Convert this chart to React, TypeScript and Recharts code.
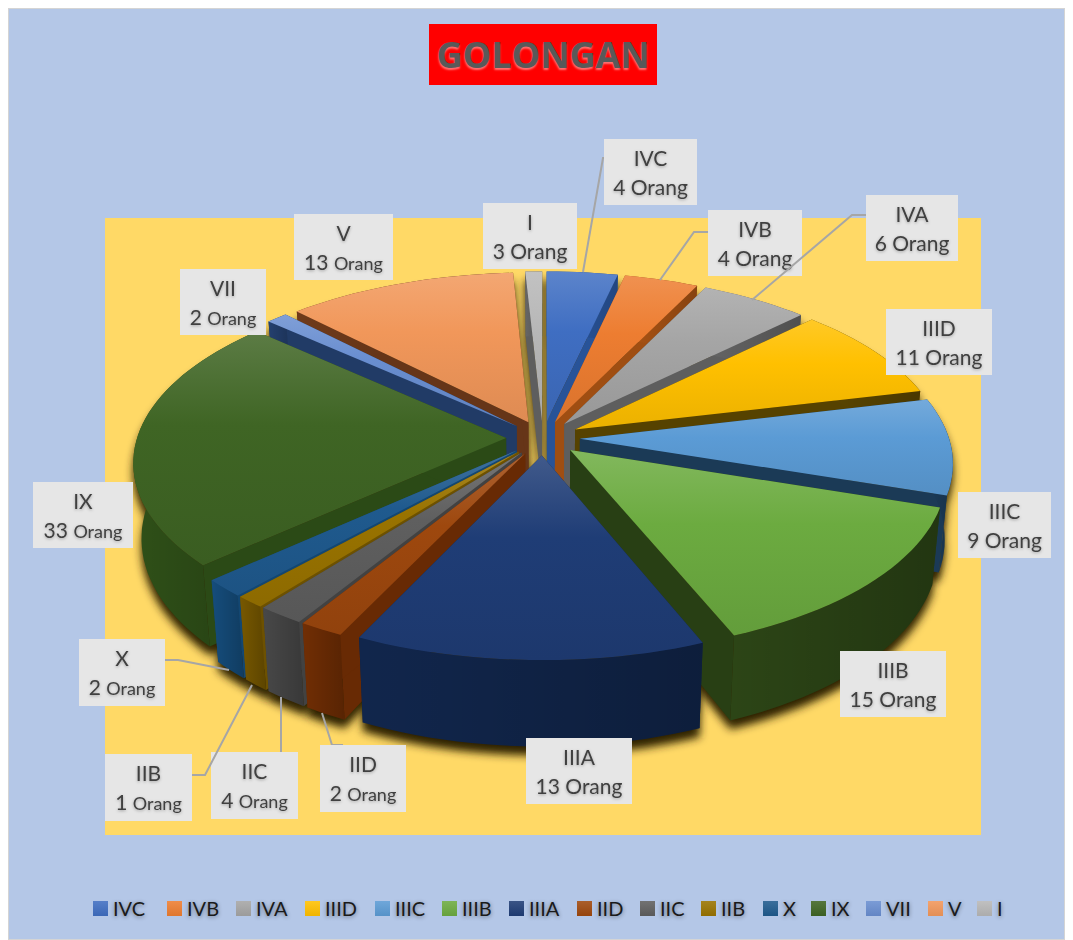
import React from 'react';
import { PieChart, Pie, Legend } from 'recharts';

const categories = ['IVC', 'IVB', 'IVA', 'IIID', 'IIIC', 'IIIB', 'IIIA', 'IID', 'IIC', 'IIB', 'X', 'IX', 'VII', 'V', 'I'];
// printed on the data labels
const labelCounts = [4, 4, 6, 11, 9, 15, 13, 2, 4, 1, 2, 33, 2, 13, 3];
// slice sizes as measured on the picture (the drawn arcs do not follow the printed counts)
const sliceSizes = [12.7, 13.3, 19.4, 31.1, 31.8, 49.5, 47.7, 6.1, 6.4, 4, 5.8, 84.2, 3.8, 41.2, 3];

const topColors = ['#3F6EC2', '#ED7D31', '#A5A5A5', '#FFC000', '#5B9BD5', '#6CAB40', '#1F3D76', '#9E480E', '#5F5F5F', '#997300', '#1F5A8E', '#3F6524', '#698ED0', '#F1975A', '#B7B7B7'];
const wallColors = ['#2C5AA5', '#AD5514', '#666666', '#5E4800', '#1D3F5E', '#2C4516', '#11264C', '#712E04', '#484848', '#775800', '#154D7C', '#2F5018', '#24406F', '#6F3A1A', '#666666'];

// page coordinates of the boxes: x, y, w, h
const labelBoxes = [
  [604, 139, 93, 66], [708, 210, 94, 66], [866, 195, 92, 66], [886, 309, 106, 66], [958, 492, 93, 66],
  [840, 651, 106, 66], [526, 738, 106, 66], [320, 745, 86, 67], [211, 752, 87, 67], [105, 754, 87, 67],
  [79, 639, 86, 67], [33, 482, 100, 66], [180, 269, 86, 66], [294, 214, 99, 66], [483, 203, 94, 66],
];
const smallUnit = [false, false, false, false, false, false, false, true, true, true, true, true, true, true, false];
const leaders = [
  [[583, 272], [603, 158], [604, 158]],
  [[660, 280], [694, 232], [708, 232]],
  [[752, 300], [852, 215], [866, 215]],
  [], [], [], [],
  [[322, 713], [332, 745], [343, 745]],
  [[281, 697], [281, 752]],
  [[252, 685], [205, 775], [192, 775]],
  [[229, 670], [178, 660], [165, 660]],
  [], [], [], [],
];
// left edge of each legend swatch, page x
const legendX = [93, 167, 236, 305, 375, 442, 509, 577, 640, 701, 763, 811, 866, 928, 977];

const rows = categories.map((name, idx) => ({ name, value: sliceSizes[idx], idx }));

const OUTER = 369;
const TILT = 0.469;
const PERSP = 0.13;
const DEPTH = 74;
const EXPLODE = 0.1;

const RAD = Math.PI / 180;

// depth order, back slices first
let acc = 0;
const total = sliceSizes.reduce((a, b) => a + b, 0);
const mids = sliceSizes.map((v) => {
  const m = acc + v / 2;
  acc += v;
  return (m / total) * 360;
});
const drawOrder = categories.map((_, i) => i).sort((a, b) => Math.cos(mids[b] * RAD) - Math.cos(mids[a] * RAD));

const mix = (hex: string, target: number, t: number) => {
  const n = parseInt(hex.slice(1), 16);
  const c = [(n >> 16) & 255, (n >> 8) & 255, n & 255].map((x) => Math.round(x + (target - x) * t));
  return `rgb(${c[0]},${c[1]},${c[2]})`;
};

// geometry of one exploded wedge, from the angles the Pie hands over
const wedge = (p: any) => {
  const { cx, cy, outerRadius: R, startAngle, endAngle } = p;
  const mid = (startAngle + endAngle) / 2;
  const ox = Math.cos(mid * RAD) * EXPLODE;
  const oy = -Math.sin(mid * RAD) * EXPLODE;
  const pt = (u: number, v: number, low: boolean) => {
    const s = 1 / (1 - PERSP * v);
    const x = cx + R * u * s * (low ? 0.98 : 1);
    const y = cy + R * TILT * v * s + (low ? DEPTH * s : 0);
    return [x, y];
  };
  const edge = (a: number, low: boolean) => pt(Math.cos(a * RAD) + ox, -Math.sin(a * RAD) + oy, low);
  const apex = (low: boolean) => pt(ox, oy, low);
  const steps = Math.max(2, Math.ceil(Math.abs(endAngle - startAngle) / 2));
  const angles = Array.from({ length: steps + 1 }, (_, i) => startAngle + ((endAngle - startAngle) * i) / steps);
  const d = (pts: number[][]) => 'M' + pts.map((q) => `${q[0].toFixed(1)},${q[1].toFixed(1)}`).join('L') + 'Z';
  const arcTop = angles.map((a) => edge(a, false));
  const arcLow = angles.map((a) => edge(a, true));
  return {
    top: d([apex(false), ...arcTop]),
    outer: d([...arcTop, ...arcLow.slice().reverse()]),
    cutA: d([apex(false), edge(startAngle, false), edge(startAngle, true), apex(true)]),
    cutB: d([apex(false), edge(endAngle, false), edge(endAngle, true), apex(true)]),
  };
};

const ShadowShape = (p: any) => {
  const w = wedge(p);
  return (
    <g filter="url(#pieShadow)" transform="translate(0,9)">
      <path d={w.outer} fill="#2e2400" />
      <path d={w.cutA} fill="#2e2400" />
      <path d={w.cutB} fill="#2e2400" />
      <path d={w.top} fill="#2e2400" />
    </g>
  );
};

const sliceShape = (only: number) => (p: any) => {
  if (p.idx !== only) return <g />;
  const w = wedge(p);
  const wall = wallColors[only];
  return (
    <g>
      <path d={w.cutA} fill={mix(wall, 0, 0.08)} />
      <path d={w.cutB} fill={mix(wall, 0, 0.08)} />
      <path d={w.outer} fill={wall} />
      <path d={w.outer} fill="url(#wallShade)" />
      <path d={w.top} fill={`url(#top${only})`} />
    </g>
  );
};

const renderDataLabel = (p: any) => {
  const i = p.payload?.idx ?? p.idx ?? p.index;
  const [x, y, w, h] = labelBoxes[i];
  const tx = x + w / 2;
  const line = leaders[i];
  return (
    <g key={i} transform="translate(-8,-8)">
      {line.length > 0 && (
        <polyline points={line.map((q) => q.join(',')).join(' ')} fill="none" stroke="#A6A6A6" strokeWidth={2} />
      )}
      <rect x={x} y={y} width={w} height={h} fill="#E6E6E6" />
      <g filter="url(#textSoft)" fontFamily="Lato, sans-serif" fill="#404040" textAnchor="middle">
        <text x={tx} y={y + 27} fontSize={21}>{categories[i]}</text>
        <text x={tx} y={y + 56} fontSize={21}>
          {labelCounts[i]} <tspan fontSize={smallUnit[i] ? 18 : 21}>Orang</tspan>
        </text>
      </g>
    </g>
  );
};

const renderLegend = () => (
  <div style={{ position: 'relative', height: 26, fontFamily: 'Lato, sans-serif', fontSize: 20, color: '#1a1a1a' }}>
    {categories.map((c, i) => (
      <div key={c} style={{ position: 'absolute', left: legendX[i] - 8, top: 0, height: 26, display: 'flex', alignItems: 'center' }}>
        <span style={{ width: 15, height: 15, marginRight: 5, background: `linear-gradient(${mix(topColors[i], 255, 0.12)}, ${mix(topColors[i], 0, 0.06)})` }} />
        <span style={{ textShadow: '0 1px 4px rgba(0,0,0,0.45)' }}>{c}</span>
      </div>
    ))}
  </div>
);

const App = () => {
  return (
    <div style={{ position: 'relative', width: 1057, height: 932, boxSizing: 'border-box', border: '1px solid #D4D4D4', background: '#B4C7E7' }}>
      <svg width={0} height={0} style={{ position: 'absolute' }}>
        <defs>
          <filter id="pieShadow" filterUnits="userSpaceOnUse" x={0} y={0} width={1073} height={940}>
            <feGaussianBlur stdDeviation={4} />
          </filter>
          <filter id="textSoft" x="-20%" y="-20%" width="140%" height="150%">
            <feDropShadow dx={0} dy={1} stdDeviation={1.5} floodColor="#000" floodOpacity={0.3} />
          </filter>
          <linearGradient id="wallShade" x1={0} y1={0} x2={1} y2={0}>
            <stop offset="0%" stopColor="#000" stopOpacity={0} />
            <stop offset="100%" stopColor="#000" stopOpacity={0.22} />
          </linearGradient>
          {topColors.map((c, i) => (
            <linearGradient key={i} id={`top${i}`} x1={0} y1={0} x2={0} y2={1}>
              <stop offset="0%" stopColor={mix(c, 255, 0.15)} />
              <stop offset="40%" stopColor={c} />
              <stop offset="100%" stopColor={mix(c, 0, 0.08)} />
            </linearGradient>
          ))}
        </defs>
      </svg>
      <div style={{ position: 'absolute', left: 96, top: 209, width: 876, height: 617, background: '#FFD966' }} />
      <div style={{ position: 'absolute', left: 420, top: 15, width: 228, height: 61, background: '#FF0000', color: '#595959', fontFamily: '"Open Sans", sans-serif', fontWeight: 700, fontSize: 36, lineHeight: '61px', textAlign: 'center', textShadow: '0 2px 2px rgba(255,255,255,0.45)' }}>
        GOLONGAN
      </div>
      <div style={{ position: 'absolute', left: -1, top: -1 }}>
        <PieChart width={1057} height={932} margin={{ top: 0, right: 0, bottom: 0, left: 0 }}>
          <Pie
            data={rows}
            dataKey="value"
            nameKey="name"
            cx={535}
            cy={430}
            outerRadius={OUTER}
            startAngle={90}
            endAngle={-270}
            isAnimationActive={false}
            shape={ShadowShape}
            legendType="none"
          />
          {drawOrder.map((idx) => (
            <Pie
              key={idx}
              data={rows}
              dataKey="value"
              nameKey="name"
              cx={535}
              cy={430}
              outerRadius={OUTER}
              startAngle={90}
              endAngle={-270}
              isAnimationActive={false}
              shape={sliceShape(idx)}
              legendType="none"
            />
          ))}
          <Pie
            data={rows}
            dataKey="value"
            nameKey="name"
            cx={535}
            cy={430}
            outerRadius={OUTER}
            startAngle={90}
            endAngle={-270}
            isAnimationActive={false}
            shape={() => <g />}
            label={renderDataLabel}
            labelLine={false}
          />
          <Legend verticalAlign="bottom" content={renderLegend} wrapperStyle={{ bottom: 19, left: 0, width: 1057 }} />
        </PieChart>
      </div>
    </div>
  );
};

export default App;
